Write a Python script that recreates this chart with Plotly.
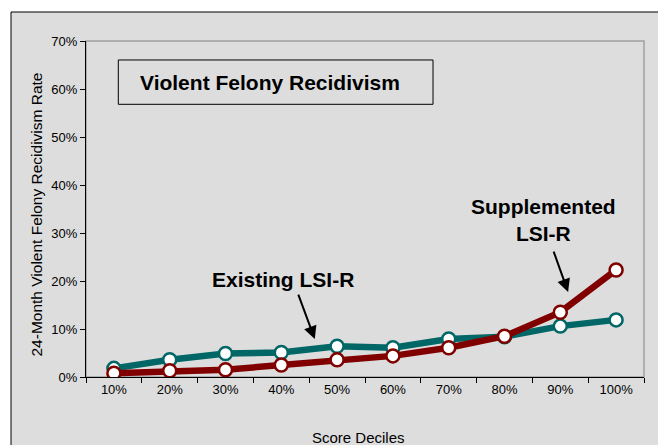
import plotly.graph_objects as go

deciles = ["10%", "20%", "30%", "40%", "50%", "60%", "70%", "80%", "90%", "100%"]
existing_lsir = [1.8, 3.6, 4.9, 5.1, 6.4, 6.1, 7.9, 8.4, 10.6, 11.9]
supplemented_lsir = [0.8, 1.3, 1.5, 2.5, 3.6, 4.4, 6.1, 8.5, 13.5, 22.3]
y_ticks = [0, 10, 20, 30, 40, 50, 60, 70]

TEAL = "#006666"
DARKRED = "#800000"
BG = "#DDDDDD"
FONT = "Liberation Sans, Arial, sans-serif"

fig = go.Figure()
fig.add_trace(go.Scatter(
    x=deciles, y=existing_lsir, mode="lines+markers", name="Existing LSI-R",
    line=dict(color=TEAL, width=6.5),
    marker=dict(size=13, color="white", line=dict(color=TEAL, width=2.5)),
))
fig.add_trace(go.Scatter(
    x=deciles, y=supplemented_lsir, mode="lines+markers", name="Supplemented LSI-R",
    line=dict(color=DARKRED, width=6.5),
    marker=dict(size=13, color="white", line=dict(color=DARKRED, width=2.5)),
))

shapes = [
    # outer chart area
    dict(type="rect", xref="paper", yref="paper", x0=-0.1344, x1=1.0358, y0=-0.3, y1=1.0863,
         fillcolor=BG, line=dict(color="black", width=1), layer="below"),
    # plot frame (top/right gray)
    dict(type="rect", xref="paper", yref="paper", x0=0, x1=1, y0=0, y1=1,
         line=dict(color="#A0A0A0", width=1.5), layer="below"),
    # title box
    dict(type="rect", xref="paper", yref="paper", x0=0.0579, x1=0.6219, y0=0.8116, y1=0.9435,
         line=dict(color="black", width=1), fillcolor="rgba(0,0,0,0)", layer="above"),
]

annotations = [
    dict(text="<b>Violent Felony Recidivism</b>", xref="paper", yref="paper", x=0.3289, y=0.8765,
         xanchor="center", yanchor="middle", showarrow=False, font=dict(size=21, color="black", family=FONT)),
    dict(text="<b>Existing LSI-R</b>", xref="x", yref="y", x=3.03, y=20.4,
         xanchor="center", yanchor="middle", showarrow=False, font=dict(size=21, color="black", family=FONT)),
    dict(text="<b>Supplemented<br>LSI-R</b>", xref="x", yref="y", x=7.69, y=32.8,
         xanchor="center", yanchor="middle", showarrow=False, font=dict(size=21, color="black", family=FONT)),
    dict(text="", xref="x", yref="y", x=3.60, y=7.9, ax=-17, ay=-46, showarrow=True,
         arrowhead=2, arrowsize=1.3, arrowwidth=2, arrowcolor="black", standoff=0),
    dict(text="", xref="x", yref="y", x=8.14, y=17.7, ax=-15, ay=-42, showarrow=True,
         arrowhead=2, arrowsize=1.3, arrowwidth=2, arrowcolor="black", standoff=0),
    dict(text="24-Month Violent Felony Recidivism Rate", xref="paper", yref="paper",
         x=-0.0878, y=0.4836, textangle=-90, xanchor="center", yanchor="middle", showarrow=False,
         font=dict(size=15.5, color="black", family=FONT)),
    dict(text="Score Deciles", xref="paper", yref="paper", x=0.4875, y=-0.1786,
         xanchor="center", yanchor="middle", showarrow=False, font=dict(size=15, color="black", family=FONT)),
]

# the page body adds an 8px offset; size the figure to fill the rest of the window
fig.update_layout(
    width=658, height=437,
    margin=dict(l=78, r=22, t=33, b=68),
    paper_bgcolor="white", plot_bgcolor="rgba(0,0,0,0)",
    showlegend=False,
    font=dict(family=FONT, size=13, color="black"),
    shapes=shapes, annotations=annotations,
)
fig.update_xaxes(
    type="category", range=[-0.5, 9.5], tickson="boundaries",
    ticks="outside", ticklen=5, tickcolor="black", tickwidth=1,
    showline=True, linecolor="black", linewidth=1,
    showgrid=False, zeroline=False, tickfont=dict(size=13),
)
fig.update_yaxes(
    range=[0, 70], tickvals=y_ticks, ticktext=[f"{v}%" for v in y_ticks],
    ticks="outside", ticklen=5, tickcolor="black", tickwidth=1,
    showline=True, linecolor="black", linewidth=1,
    showgrid=False, zeroline=False, tickfont=dict(size=13),
)

fig.write_html("out.html")
